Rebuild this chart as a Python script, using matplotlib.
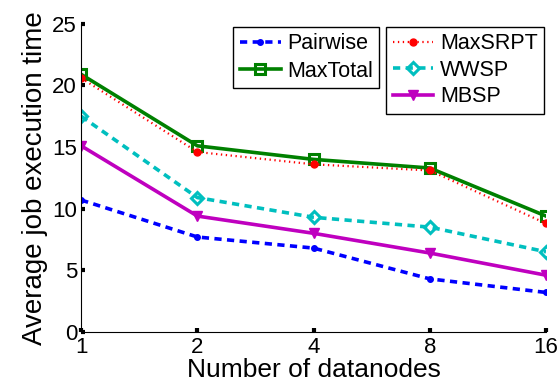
import numpy as np
import matplotlib.pyplot as plt

plt.rcParams['font.family'] = ['Liberation Sans', 'DejaVu Sans']

nodes = ['1', '2', '4', '8', '16']
pairwise = [10.7, 7.7, 6.8, 4.3, 3.2]
maxtotal = [20.9, 15.1, 14.0, 13.3, 9.4]
maxsrpt = [20.6, 14.6, 13.6, 13.1, 8.8]
wwsp = [17.5, 10.9, 9.3, 8.5, 6.5]
mbsp = [15.1, 9.4, 8.0, 6.4, 4.6]

x = np.arange(len(nodes))

fig = plt.figure(figsize=(5.6, 3.85), dpi=100)
ax = fig.add_axes([0.145, 0.138, 0.83, 0.80])

l1, = ax.plot(x, pairwise, color='#0000ff', ls=(0, (2, 1.5)), lw=2.6,
              marker='o', ms=4, label='Pairwise')
l2, = ax.plot(x, maxtotal, color='#008000', ls='-', lw=2.6,
              marker='s', ms=7, mfc='none', mew=2.2, label='MaxTotal')
l3, = ax.plot(x, maxsrpt, color='#ff0000', ls=(0, (0.6, 1.6)), lw=1.6,
              marker='o', ms=5, label='MaxSRPT')
l4, = ax.plot(x, wwsp, color='#00bfbf', ls=(0, (2, 1.5)), lw=2.6,
              marker='D', ms=6, mfc='none', mew=2.2, label='WWSP')
l5, = ax.plot(x, mbsp, color='#bf00bf', ls='-', lw=2.6,
              marker='v', ms=7, label='MBSP')

ax.set_xlim(0, 4)
ax.set_ylim(0, 25)
ax.set_xticks(x)
ax.set_xticklabels(nodes)
ax.set_yticks([0, 5, 10, 15, 20, 25])
ax.spines['top'].set_visible(False)
ax.spines['right'].set_visible(False)
ax.tick_params(direction='in', length=3, width=3, labelsize=16)
ax.tick_params(axis='x', pad=4)
ax.tick_params(axis='y', pad=3)
ax.set_xlabel('Number of datanodes', fontsize=19, labelpad=0)
ax.set_ylabel('Average job execution time', fontsize=20, labelpad=3)

leg1 = ax.legend(handles=[l1, l2], loc='upper left', bbox_to_anchor=(0.327, 0.99),
                 fontsize=15.5, fancybox=False, edgecolor='black', framealpha=1,
                 handlelength=1.9, borderpad=0.3, labelspacing=0.3,
                 handletextpad=0.3, borderaxespad=0, numpoints=1)
ax.add_artist(leg1)
ax.legend(handles=[l3, l4, l5], loc='upper left', bbox_to_anchor=(0.656, 0.99),
          fontsize=15.5, fancybox=False, edgecolor='black', framealpha=1,
          handlelength=1.9, borderpad=0.3, labelspacing=0.25,
          handletextpad=0.3, borderaxespad=0, numpoints=1)

fig.savefig('out.png', dpi=100)
